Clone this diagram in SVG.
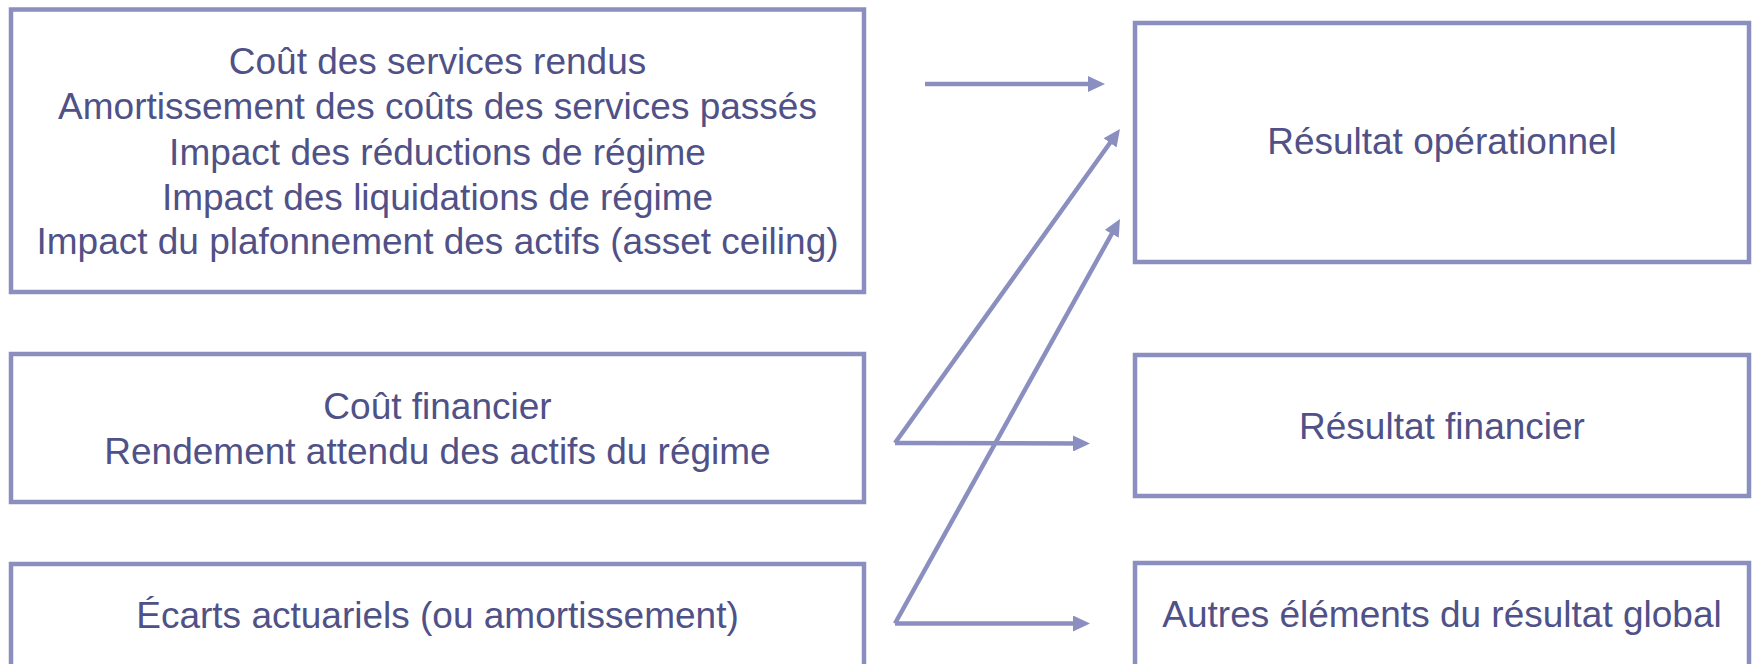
<svg xmlns="http://www.w3.org/2000/svg" width="1752" height="664" viewBox="0 0 1752 664">
<style>
.box{fill:#ffffff;stroke:#8A8FC0;stroke-width:4.5}
.t{font-family:"Liberation Sans",Arial,sans-serif;font-size:37px;fill:#4F5187;text-anchor:middle}
.c{fill:none;stroke:#8A8FC0;stroke-width:4.5}
</style>
<defs>
<marker id="ah" viewBox="0 0 17 16" refX="9" refY="8" markerWidth="17" markerHeight="16" markerUnits="userSpaceOnUse" orient="auto">
<path d="M0,0 L17,8 L0,16 z" fill="#8A8FC0"/>
</marker>
</defs>
<rect width="1752" height="664" fill="#ffffff"/>
<g id="n1">
<rect class="box" x="11" y="9.5" width="853" height="282.5"/>
<text class="t" x="437.5" y="74">Coût des services rendus</text>
<text class="t" x="437.5" y="119">Amortissement des coûts des services passés</text>
<text class="t" x="437.5" y="164.5">Impact des réductions de régime</text>
<text class="t" x="437.5" y="209.5">Impact des liquidations de régime</text>
<text class="t" x="437.5" y="254">Impact du plafonnement des actifs (asset ceiling)</text>
</g>
<g id="n2">
<rect class="box" x="11" y="354" width="853" height="148"/>
<text class="t" x="437.5" y="419">Coût financier</text>
<text class="t" x="437.5" y="464">Rendement attendu des actifs du régime</text>
</g>
<g id="n3">
<rect class="box" x="11" y="564" width="853" height="150"/>
<text class="t" x="437.5" y="628">Écarts actuariels (ou amortissement)</text>
</g>
<g id="n4">
<rect class="box" x="1135" y="23" width="614" height="239"/>
<text class="t" x="1442" y="154">Résultat opérationnel</text>
</g>
<g id="n5">
<rect class="box" x="1135" y="355" width="614" height="141"/>
<text class="t" x="1442" y="439">Résultat financier</text>
</g>
<g id="n6">
<rect class="box" x="1135" y="563" width="614" height="150"/>
<text class="t" x="1442" y="627">Autres éléments du résultat global</text>
</g>
<g id="connectors">
<path class="c" d="M925,84 L1097,84" marker-end="url(#ah)"/>
<path class="c" d="M895,443 L1115.3,135.5" marker-end="url(#ah)"/>
<path class="c" d="M895,443 L1082,443.5" marker-end="url(#ah)"/>
<path class="c" d="M895,623.5 L1116.1,226" marker-end="url(#ah)"/>
<path class="c" d="M895,623.5 L1082,623.5" marker-end="url(#ah)"/>
</g>
</svg>
